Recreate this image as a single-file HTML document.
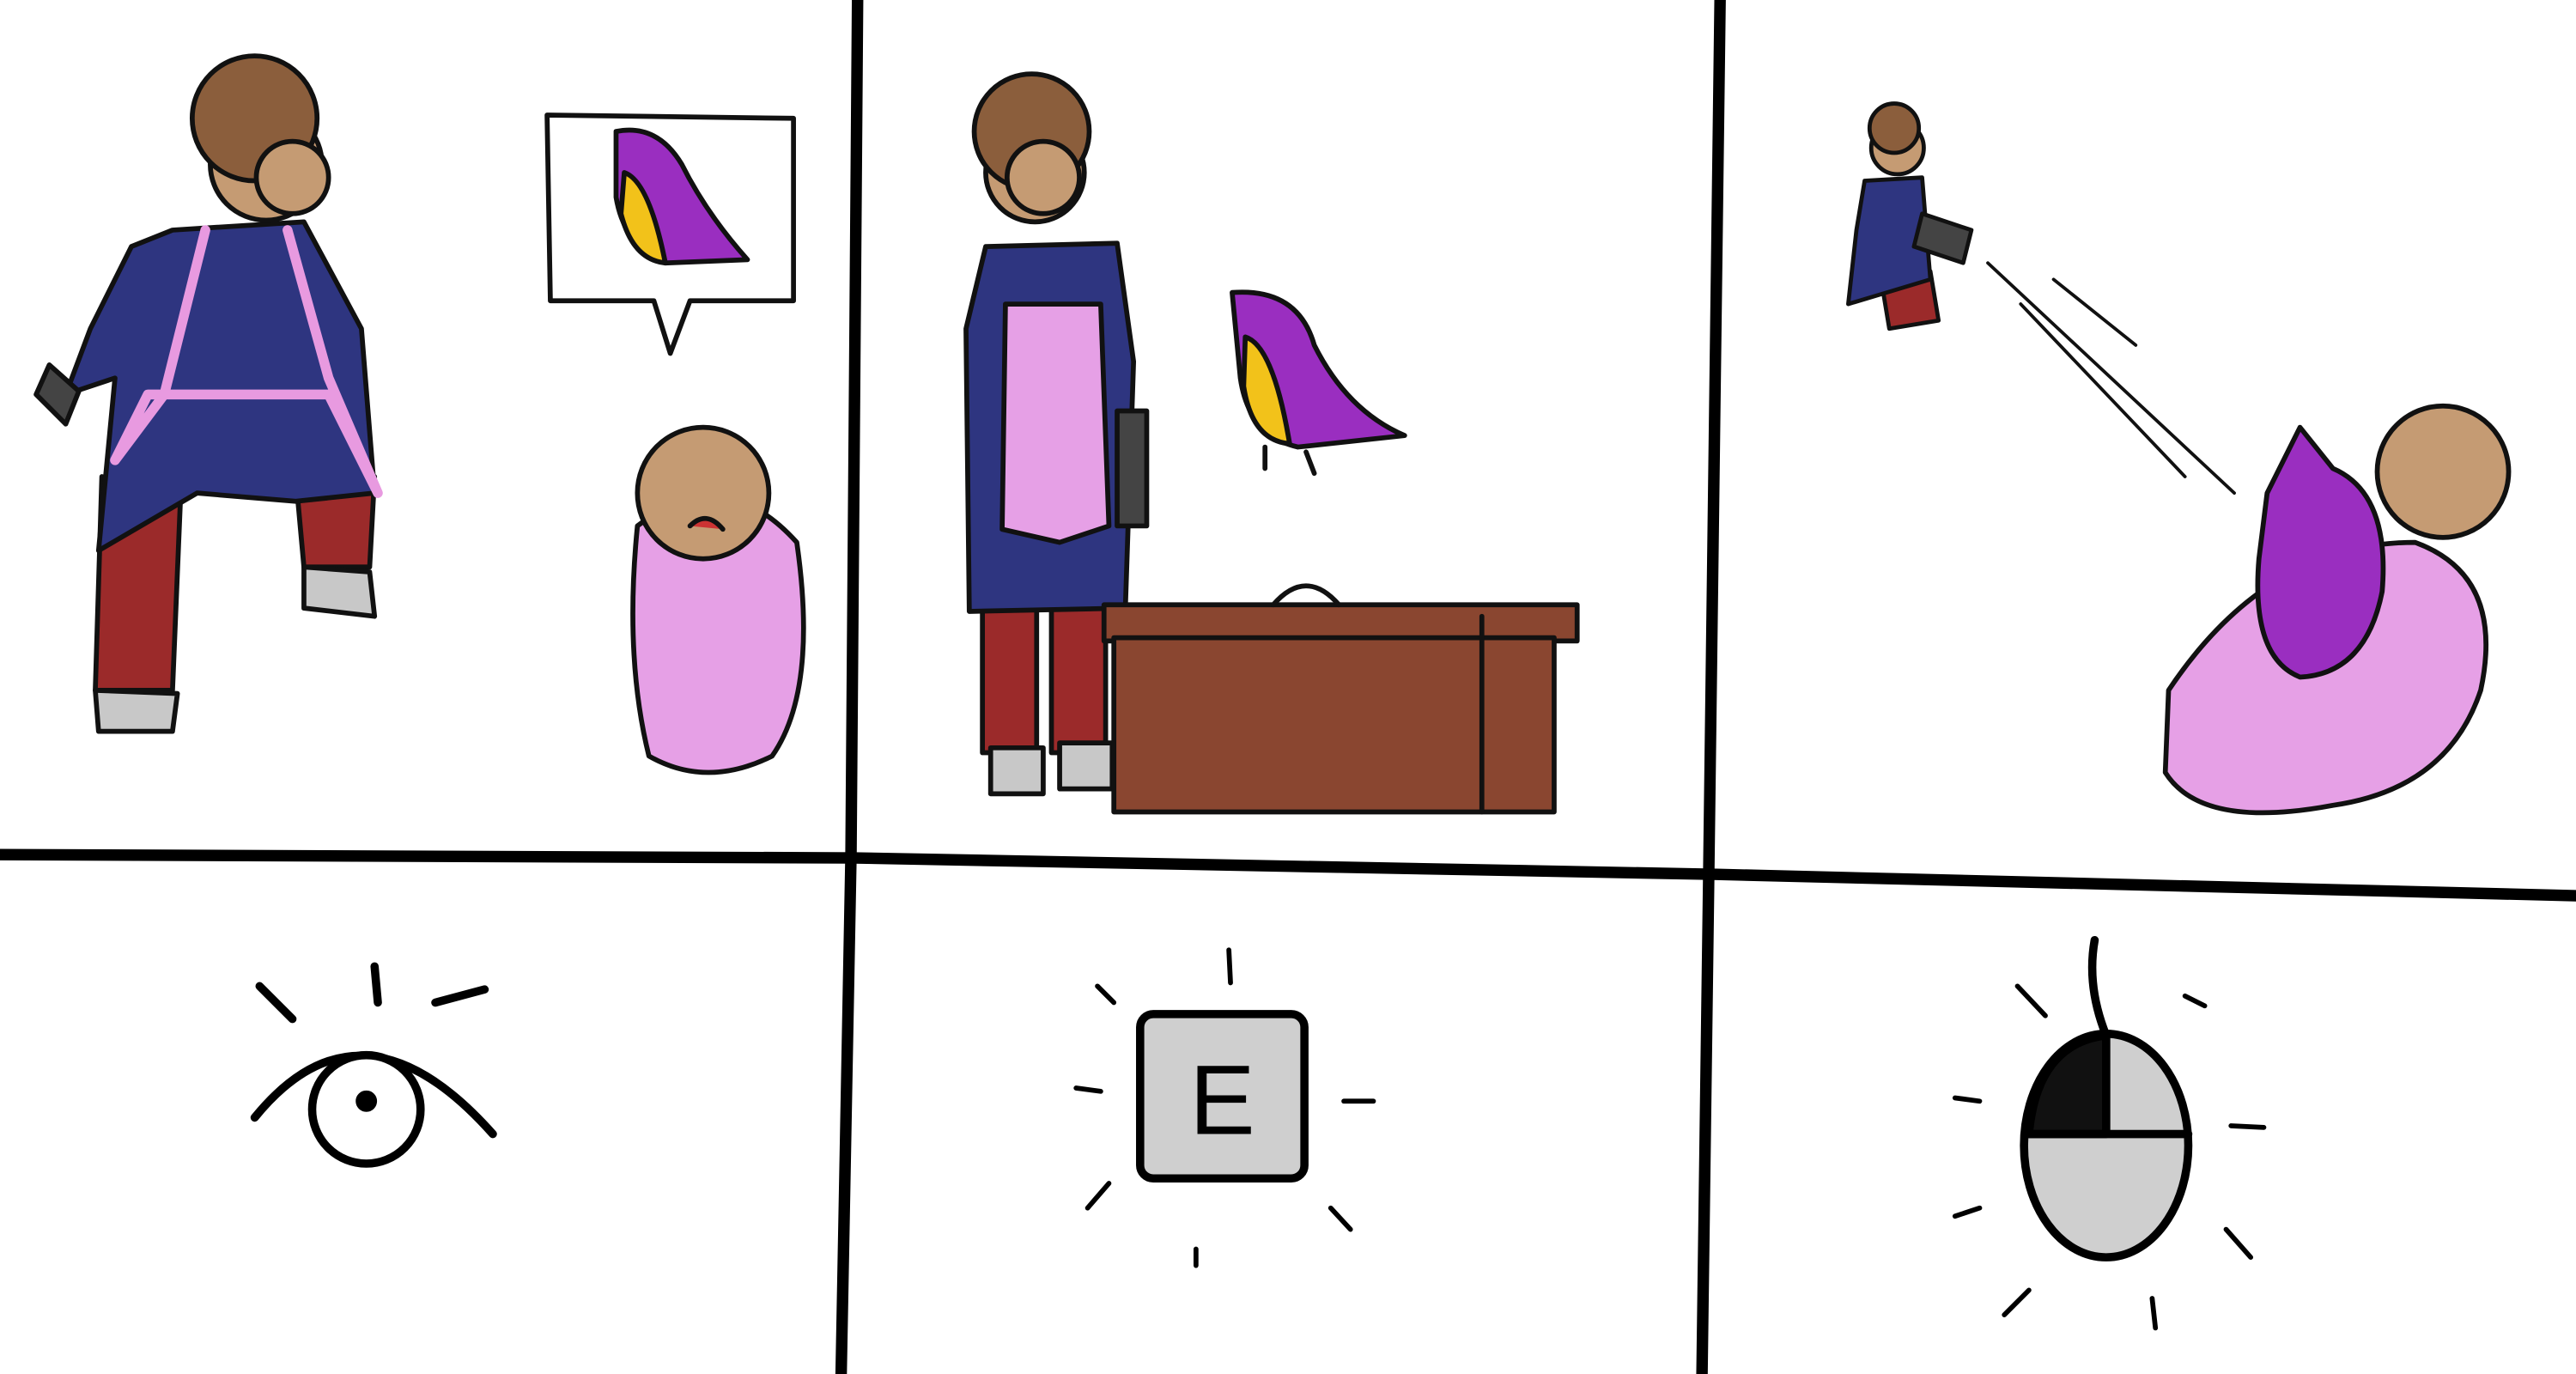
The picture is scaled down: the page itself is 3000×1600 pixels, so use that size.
<!DOCTYPE html>
<html><head><meta charset="utf-8"><style>
html,body{margin:0;padding:0;background:#fff;width:3000px;height:1600px;overflow:hidden}
svg{display:block}
</style></head><body>
<svg width="3000" height="1600" viewBox="0 0 1568 836" preserveAspectRatio="none" xmlns="http://www.w3.org/2000/svg" stroke-linejoin="round" stroke-linecap="round">
<rect width="1568" height="836" fill="#fff"/>
<!-- panel 1 person -->
<g stroke="#111" stroke-width="3">
 <path d="M62,290 L58,420 L105,420 L110,300Z" fill="#9b2a2a"/>
 <path d="M180,290 L185,345 L225,345 L228,290Z" fill="#9b2a2a"/>
 <path d="M58,420 L60,445 L105,445 L108,422Z" fill="#c8c8c8"/>
 <path d="M185,345 L185,370 L228,375 L225,348Z" fill="#c8c8c8"/>
 <path d="M105,140 L185,135 L220,200 L228,300 L180,305 L120,300 L60,335 L70,230 L40,240 L55,200 L80,150Z" fill="#2e3580"/>
 <path d="M125,140 L100,240 L70,280 L90,240 L200,240 L230,300 L200,230 L175,140" fill="none" stroke="#e89ae0" stroke-width="6"/>
 <circle cx="162" cy="100" r="34" fill="#c59b73"/>
 <circle cx="155" cy="72" r="38" fill="#8b5e3c"/>
 <circle cx="178" cy="108" r="22" fill="#c59b73"/>
 <path d="M30,222 L48,238 L40,258 L22,240Z" fill="#444"/>
</g>
<g stroke="#111" stroke-width="3">
 <path d="M333,70 L483,72 L483,183 L420,183 L408,215 L398,183 L335,183Z" fill="#fff"/>
 <path d="M375,80 Q400,75 415,100 Q430,130 455,158 L405,160 Q380,150 375,120Z" fill="#9a2ec0"/>
 <path d="M380,105 Q395,110 405,160 Q385,158 378,130Z" fill="#f2c21a"/>
</g>
<g stroke="#111" stroke-width="3">
 <path d="M388,320 Q440,280 485,330 Q498,420 470,460 Q430,480 395,460 Q380,400 388,320Z" fill="#e6a0e6"/>
 <circle cx="428" cy="300" r="40" fill="#c59b73"/>
 <path d="M420,320 Q430,310 440,322" fill="#c33"/>
</g>
<!-- panel 2 -->
<g stroke="#111" stroke-width="3">
 <rect x="598" y="368" width="33" height="90" fill="#9b2a2a"/>
 <rect x="640" y="368" width="33" height="90" fill="#9b2a2a"/>
 <rect x="603" y="455" width="32" height="28" fill="#c8c8c8"/>
 <rect x="645" y="452" width="32" height="28" fill="#c8c8c8"/>
 <path d="M600,150 L680,148 L690,220 L685,370 L590,372 L588,200Z" fill="#2e3580"/>
 <path d="M612,185 L670,185 L675,320 L645,330 L610,322Z" fill="#e6a0e6"/>
 <circle cx="630" cy="105" r="30" fill="#c59b73"/>
 <circle cx="628" cy="80" r="35" fill="#8b5e3c"/>
 <circle cx="635" cy="108" r="22" fill="#c59b73"/>
 <rect x="680" y="250" width="18" height="70" fill="#444"/>
</g>
<g stroke="#111" stroke-width="3">
 <path d="M750,178 Q790,175 800,210 Q820,250 855,265 L790,272 Q760,265 755,230Z" fill="#9a2ec0"/>
 <path d="M758,205 Q775,210 785,270 Q762,268 757,235Z" fill="#f2c21a"/>
 <path d="M770,272 L770,285 M795,275 L800,288" fill="none"/>
</g>
<g stroke="#111" stroke-width="3">
 <rect x="672" y="368" width="288" height="22" fill="#8a4630"/>
 <rect x="678" y="388" width="268" height="106" fill="#8a4630"/>
 <path d="M902,375 L902,494 M775,368 Q795,345 815,368" fill="none"/>
</g>
<!-- panel 3 -->
<g stroke="#111" stroke-width="2.5">
 <path d="M1145,170 L1175,165 L1180,195 L1150,200Z" fill="#9b2a2a"/>
 <path d="M1135,110 L1170,108 L1175,170 L1125,185 L1130,140Z" fill="#2e3580"/>
 <circle cx="1155" cy="90" r="16" fill="#c59b73"/>
 <circle cx="1153" cy="78" r="15" fill="#8b5e3c"/>
 <path d="M1170,130 L1200,140 L1195,160 L1165,150Z" fill="#444"/>
 <path d="M1210,160 L1360,300 M1230,185 L1330,290 M1250,170 L1300,210" fill="none" stroke-width="2"/>
</g>
<g stroke="#111" stroke-width="3">
 <path d="M1320,420 Q1380,330 1470,330 Q1525,350 1510,420 Q1490,480 1420,490 Q1340,505 1318,470Z" fill="#e6a0e6"/>
 <path d="M1380,300 L1400,260 L1420,285 Q1455,300 1450,360 Q1440,410 1400,412 Q1370,400 1375,340Z" fill="#9a2ec0"/>
 <circle cx="1487" cy="287" r="40" fill="#c59b73"/>
</g>
<!-- grid lines -->
<g stroke="#000" stroke-width="7" fill="none">
 <path d="M522,0 L518,520 L512,836"/>
 <path d="M1047,0 L1040,540 L1036,836"/>
 <path d="M0,520 L520,522 L1045,532 L1568,545"/>
</g>
<!-- icons -->
<g stroke="#000" stroke-width="5" fill="none">
 <path d="M155,680 Q220,600 300,690"/>
 <circle cx="223" cy="675" r="33" fill="#fff"/>
 <circle cx="223" cy="670" r="4" fill="#000"/>
 <path d="M158,600 L178,620 M228,588 L230,610 M265,610 L295,602"/>
</g>
<g stroke="#000" stroke-width="5">
 <rect x="694" y="617" width="100" height="100" rx="8" fill="#cfcfcf"/>
 <text x="744" y="690" font-family="Liberation Sans, sans-serif" font-size="60" text-anchor="middle" fill="#000" stroke="none">E</text>
 <path d="M748,578 L749,598 M668,600 L678,610 M655,662 L670,664 M818,670 L836,670 M662,735 L675,720 M810,735 L822,748 M728,760 L728,770" fill="none" stroke-width="3"/>
</g>
<g stroke="#000" stroke-width="5">
 <ellipse cx="1282" cy="697" rx="50" ry="68" fill="#cfcfcf"/>
 <path d="M1282,630 Q1240,635 1235,690 L1282,690Z" fill="#111"/>
 <path d="M1233,690 L1332,690 M1282,630 L1282,690" fill="none"/>
 <path d="M1282,630 Q1270,600 1275,572" fill="none"/>
 <path d="M1228,600 L1245,618 M1330,606 L1342,612 M1190,668 L1205,670 M1358,685 L1378,686 M1190,740 L1205,735 M1355,748 L1370,765 M1220,800 L1235,785 M1310,790 L1312,808" fill="none" stroke-width="3"/>
</g>
</svg>
</body></html>
